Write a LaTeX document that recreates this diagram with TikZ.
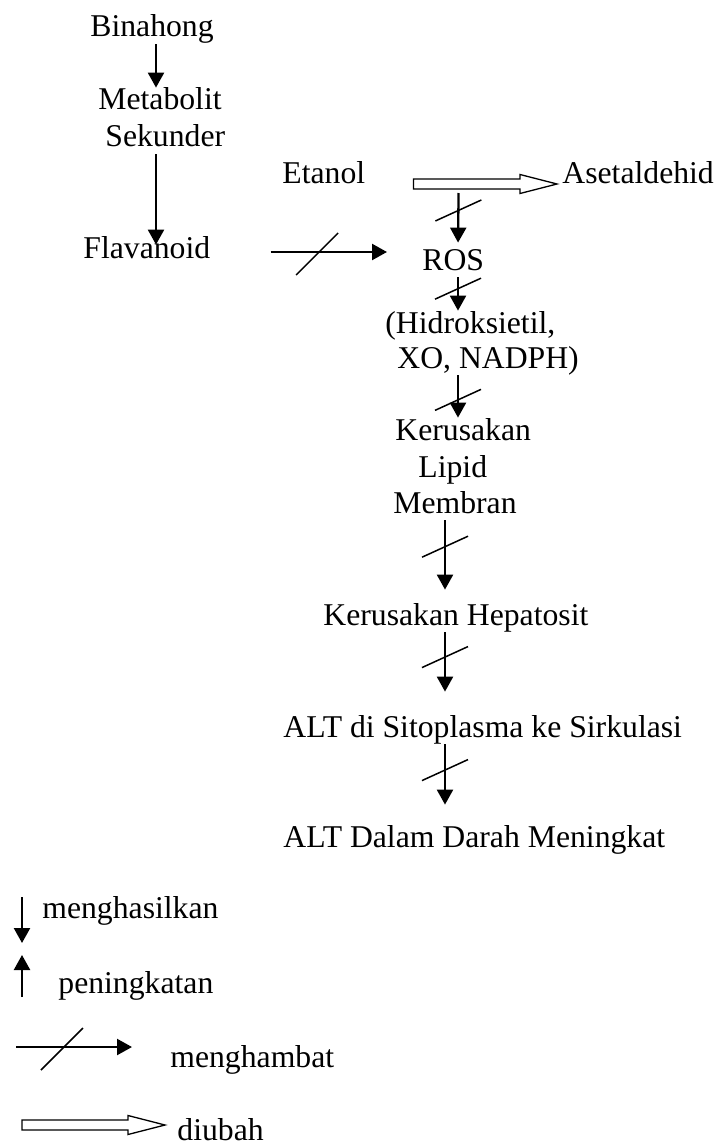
\documentclass[tikz,border=0pt]{standalone}
\usepackage{fontspec}
\setmainfont{Liberation Serif}
\usetikzlibrary{arrows.meta, calc}

% slash across an inhibited arrow
\newcommand{\hambatv}[1]{\draw[hambat] (#1) +(-23,10.5) -- +(23,-10.5);}
\newcommand{\hambath}[1]{\draw[hambat] (#1) +(-21,23) -- +(21,-19);}
% hollow "diubah" arrow
\newcommand{\ubaharrow}[2]{%
  \draw[hollow] ($(#1)+(0,-5)$) -- ($(#2)+(-37,-5)$) -- ($(#2)+(-37,-9.5)$) -- (#2)
    -- ($(#2)+(-37,9.5)$) -- ($(#2)+(-37,5)$) -- ($(#1)+(0,5)$) -- cycle;}

\begin{document}
\begin{tikzpicture}[x=0.5pt, y=-0.5pt,
  lbl/.style={anchor=base west, inner sep=0pt, text height=11pt, text depth=3.5pt,
    font=\fontsize{15.85pt}{19pt}\selectfont},
  arr/.style={line width=1.15pt, -{Triangle[width=8pt,length=7.5pt]}},
  hambat/.style={line width=0.75pt},
  hollow/.style={line width=0.65pt, fill=white}]
\useasboundingbox (0,0) rectangle (718,1145);

\coordinate (colA) at (156,0);
\coordinate (colB) at (458,0);
\coordinate (colC) at (445,0);

% left column
\node[lbl] (bina) at (90,37) {Binahong};
\node[lbl] (metab) at (98,110) {Metabolit};
\node[lbl] (sekun) at (105,147) {Sekunder};
\node[lbl] (flav) at (83,258) {Flavanoid};

% main chain
\node[lbl] (etanol) at (282,183) {Etanol};
\node[lbl] (aset) at (562,183) {Asetaldehid};
\node[lbl] (ros) at (422,270) {ROS};
\node[lbl] (hidro) at (385,333) {(Hidroksietil,};
\node[lbl] (xo) at (397,368) {XO, NADPH)};
\node[lbl] (kerus) at (395,440) {Kerusakan};
\node[lbl] (lipid) at (418,477) {Lipid};
\node[lbl] (membran) at (393,513) {Membran};
\node[lbl] (hepato) at (323,625) {Kerusakan Hepatosit};
\node[lbl] (altsit) at (283,737) {ALT di Sitoplasma ke Sirkulasi};
\node[lbl] (altdar) at (283,847) {ALT Dalam Darah Meningkat};

\draw[arr] (bina.south -| colA) -- (metab.north -| colA);
\draw[arr, shorten >=-4.5pt] (sekun.south -| colA) -- (flav.north -| colA);

\coordinate (cvs) at ($(etanol.base east)+(48,1)$);
\coordinate (cve) at ($(aset.base west)+(-5,1)$);
\ubaharrow{cvs}{cve}
\coordinate (cvb) at ($(cvs)+(45,9)$);

\coordinate (inhs) at ($(flav.base east)+(60,-6)$);
\coordinate (inhe) at ($(ros.base west)+(-35,-18)$);
\draw[arr] (inhs) -- (inhe);
\hambath{$(inhs)!0.4!(inhe)$}

\draw[arr, shorten >=2.5pt] (cvb) -- (ros.north -| colB);
\hambatv{$(cvb)!0.32!(ros.north -| colB)$}
\draw[arr] (ros.south -| colB) -- (hidro.north -| colB);
\hambatv{$(ros.south -| colB)!0.34!(hidro.north -| colB)$}
\draw[arr] (xo.south -| colB) -- (kerus.north -| colB);
\hambatv{$(xo.south -| colB)!0.58!(kerus.north -| colB)$}
\draw[arr, shorten >=6.5pt] (membran.south -| colC) -- (hepato.north -| colC);
\hambatv{$(membran.south -| colC)!0.32!(hepato.north -| colC)$}
\draw[arr, shorten >=11.5pt] (hepato.south -| colC) -- (altsit.north -| colC);
\hambatv{$(hepato.south -| colC)!0.3!(altsit.north -| colC)$}
\draw[arr, shorten >=10pt] (altsit.south -| colC) -- (altdar.north -| colC);
\hambatv{$(altsit.south -| colC)!0.32!(altdar.north -| colC)$}

% legend
\node[lbl] (lgprod) at (42,918) {menghasilkan};
\node[lbl] (lgnaik) at (58,993) {peningkatan};
\node[lbl] (lghamb) at (170,1067) {menghambat};
\node[lbl] (lgubah) at (177,1140) {diubah};

\coordinate (lgA) at (22,897);
\draw[arr] (lgA) -- ++(0,46);
\coordinate (lgB) at (22,997);
\draw[arr] (lgB) -- ++(0,-42);
\coordinate (lgC) at (16,1047);
\draw[arr] (lgC) -- ++(116,0);
\hambath{$(lgC)+(46,0)$}
\coordinate (lgD) at (22,1125);
\coordinate (lgDe) at (165,1125);
\ubaharrow{lgD}{lgDe}
\end{tikzpicture}
\end{document}
